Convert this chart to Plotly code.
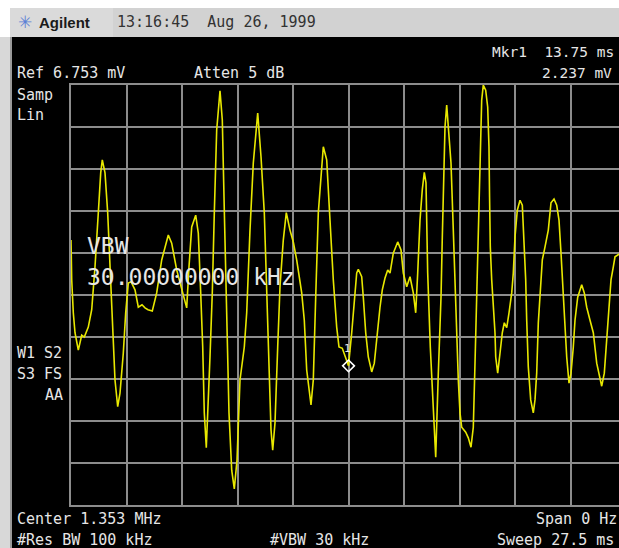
import plotly.graph_objects as go

# ---------------- data ----------------
sweep_ms = [
    0.000, 0.035, 0.114, 0.198, 0.362, 0.530, 0.659, 0.857, 1.026, 1.189,
    1.353, 1.472, 1.551, 1.685, 1.818, 1.932, 2.046, 2.180, 2.314, 2.428,
    2.591, 2.710, 2.839, 2.973, 3.171, 3.335, 3.518, 3.667, 3.815, 4.028,
    4.246, 4.494, 4.821, 4.989, 5.237, 5.485, 5.733, 5.847, 5.981, 6.179,
    6.308, 6.427, 6.526, 6.605, 6.704, 6.887, 7.001, 7.101, 7.219, 7.383,
    7.497, 7.596, 7.715, 7.829, 7.963, 8.092, 8.225, 8.374, 8.587, 8.706,
    8.869, 9.033, 9.251, 9.415, 9.578, 9.697, 9.811, 9.910, 9.994, 10.108,
    10.242, 10.356, 10.519, 10.668, 10.851, 11.015, 11.183, 11.431, 11.560, 11.679,
    11.892, 12.006, 12.125, 12.254, 12.502, 12.670, 12.833, 12.997, 13.165, 13.279,
    13.443, 13.750, 13.909, 14.038, 14.157, 14.236, 14.404, 14.484, 14.603, 14.731,
    14.900, 15.029, 15.148, 15.311, 15.425, 15.559, 15.693, 15.807, 15.970, 16.188,
    16.352, 16.466, 16.634, 16.798, 16.961, 17.080, 17.179, 17.293, 17.407, 17.506,
    17.590, 17.674, 17.803, 17.902, 18.001, 18.071, 18.200, 18.334, 18.398, 18.467,
    18.532, 18.616, 18.730, 18.829, 18.943, 19.062, 19.191, 19.275, 19.359, 19.558,
    19.686, 19.820, 19.934, 20.018, 20.102, 20.182, 20.266, 20.350, 20.429, 20.548,
    20.647, 20.710, 20.740, 20.776, 20.846, 20.925, 21.009, 21.044, 21.143, 21.257,
    21.371, 21.470, 21.589, 21.703, 21.837, 21.916, 22.000, 22.114, 22.248, 22.362,
    22.461, 22.530, 22.580, 22.659, 22.778, 22.907, 22.991, 23.075, 23.155, 23.239,
    23.353, 23.487, 23.650, 23.784, 23.933, 24.066, 24.180, 24.280, 24.394, 24.478,
    24.562, 24.676, 24.775, 24.889, 24.973, 25.107, 25.305, 25.434, 25.553, 25.717,
    25.880, 26.049, 26.296, 26.425, 26.544, 26.658, 26.757, 26.871, 26.955, 27.089,
    27.500,
]
trace_mv = [
    4.26, 3.62, 3.09, 2.77, 2.49, 2.73, 2.70, 2.86, 3.14, 3.83,
    4.70, 5.34, 5.55, 5.34, 4.70, 3.83, 2.77, 2.01, 1.58, 1.80,
    2.44, 3.09, 3.57, 3.59, 3.46, 3.18, 3.22, 3.17, 3.14, 3.12,
    3.41, 3.94, 4.34, 4.21, 3.78, 3.46, 3.17, 3.83, 4.47, 4.66,
    4.37, 3.41, 2.54, 1.48, 0.92, 2.38, 3.41, 4.70, 6.03, 6.66,
    6.19, 4.74, 2.97, 1.48, 0.56, 0.26, 0.72, 2.01, 2.54, 3.09,
    4.42, 5.50, 6.30, 5.60, 4.70, 3.51, 2.01, 1.21, 0.88, 1.32,
    2.54, 3.51, 4.26, 4.70, 4.42, 4.23, 3.94, 3.41, 2.97, 2.17,
    1.61, 2.01, 3.34, 4.70, 5.76, 5.55, 4.58, 3.62, 2.86, 2.54,
    2.52, 2.24, 2.77, 3.34, 3.73, 3.79, 3.67, 3.34, 2.77, 2.38,
    2.14, 2.28, 2.70, 3.18, 3.46, 3.65, 3.78, 3.73, 4.05, 4.23,
    4.10, 3.73, 3.51, 3.67, 3.41, 3.09, 3.73, 4.58, 5.07, 5.35,
    5.18, 3.73, 2.54, 1.85, 1.21, 0.77, 2.12, 3.34, 4.31, 5.34,
    6.08, 6.43, 5.98, 5.50, 4.42, 3.09, 2.01, 1.48, 1.25, 1.17,
    1.08, 0.93, 1.25, 2.28, 3.34, 4.42, 5.23, 6.51, 6.75, 6.67,
    6.40, 5.76, 4.95, 4.15, 3.62, 3.25, 2.77, 2.38, 2.12, 2.44,
    2.77, 2.93, 2.85, 3.09, 3.41, 3.73, 4.31, 4.74, 4.90, 4.82,
    4.15, 3.62, 2.97, 2.22, 1.69, 1.48, 1.69, 2.12, 2.93, 3.34,
    3.94, 4.15, 4.42, 4.86, 4.92, 4.82, 4.58, 4.05, 3.41, 2.81,
    2.38, 1.96, 2.12, 2.54, 2.97, 3.34, 3.54, 3.41, 3.18, 2.97,
    2.77, 2.28, 1.91, 2.12, 2.65, 3.09, 3.62, 3.83, 3.99, 4.02,
    4.10,
]
marker_ms = [13.75]
marker_mv = [2.237]

ref_level_mv = 6.753
sweep_time_ms = 27.5
divisions = 10

# ---------------- layout geometry ----------------
W, H = 619, 548
L, R, T, B = 71, 0, 85, 43
PW = W - L - R
PH = H - T - B
FULL_W = 555  # graticule width in pixels (part of it is cut off on the right)


def px(x):
    return (x - L) / PW


def py(y):
    return (H - B - y) / PH


x_max = sweep_time_ms * PW / FULL_W

GRID = "#8c8c8c"
TXT = "#e6e6e6"
MONO = "DejaVu Sans Mono"

fig = go.Figure()
fig.add_trace(go.Scatter(
    x=sweep_ms, y=trace_mv, mode="lines",
    line=dict(color="#e8e800", width=1.6),
    hoverinfo="skip", showlegend=False,
))
fig.add_trace(go.Scatter(
    x=marker_ms, y=marker_mv, mode="markers",
    marker=dict(symbol="diamond-open", size=9, color="#ffffff",
                line=dict(width=1.6, color="#ffffff")),
    hoverinfo="skip", showlegend=False,
))

shapes = [
    # black instrument screen
    dict(type="rect", xref="paper", yref="paper", x0=px(12), x1=px(W + 5),
         y0=py(37), y1=py(H + 5), fillcolor="#000000", line_width=0, layer="below"),
    # grey header strip
    dict(type="rect", xref="paper", yref="paper", x0=px(10), x1=px(W + 5),
         y0=py(8), y1=py(37), fillcolor="#d2d2d2", line_width=0, layer="below"),
    dict(type="rect", xref="paper", yref="paper", x0=px(10), x1=px(113),
         y0=py(8), y1=py(37), fillcolor="#dadada", line_width=0, layer="below"),
    # left frame
    dict(type="rect", xref="paper", yref="paper", x0=px(0), x1=px(12),
         y0=py(37), y1=py(H + 5), fillcolor="#d8d8d8", line_width=0, layer="below"),
    dict(type="line", xref="paper", yref="paper", x0=px(11), x1=px(11),
         y0=py(37), y1=py(H + 5), line=dict(color="#9a9a9a", width=2), layer="below"),
]

annotations = []


def ann(text, x, y, size=15, color=TXT, xanchor="left", family=MONO, bold=False):
    annotations.append(dict(
        text=("<b>%s</b>" % text) if bold else text,
        xref="paper", yref="paper", x=px(x), y=py(y),
        xanchor=xanchor, yanchor="middle", showarrow=False,
        font=dict(family=family, size=size, color=color),
    ))


# header
ann("✳", 16, 22, size=17, color="#5a7fd6", family="DejaVu Sans")
ann("Agilent", 37, 22, size=15, color="#1a1a1a", family="Liberation Sans", bold=True)
ann("13:16:45  Aug 26, 1999", 115, 22, size=15, color="#333333")

# top annotations
ann("Ref 6.753 mV", 15, 73)
ann("Atten 5 dB", 192, 73)
ann("Mkr1  13.75 ms", 490, 52, size=14.5)
ann("2.237 mV", 540, 73, size=14.5)
ann("Samp", 15, 95)
ann("Lin", 15, 115)

# left status
ann("W1 S2", 15, 353)
ann("S3 FS", 15, 374)
ann("AA", 43, 395)

# active function
ann("VBW", 85, 246, size=23)
ann("30.00000000 kHz", 85, 277, size=23)

# marker label
ann("1", 347, 348, size=11, xanchor="center")

# bottom annotations
ann("Center 1.353 MHz", 15, 519)
ann("#Res BW 100 kHz", 15, 540)
ann("#VBW 30 kHz", 268, 540)
ann("Span 0 Hz", 619, 519, xanchor="right")
ann("Sweep 27.5 ms", 616, 540, xanchor="right")

fig.update_layout(
    width=W, height=H,
    margin=dict(l=L, r=R, t=T, b=B, pad=0),
    paper_bgcolor="#ffffff",
    plot_bgcolor="#000000",
    showlegend=False,
    hovermode=False,
    shapes=shapes,
    annotations=annotations,
    xaxis=dict(
        range=[0, x_max], tick0=0, dtick=sweep_time_ms / divisions,
        showgrid=True, gridcolor=GRID, gridwidth=1.6,
        showticklabels=False, ticks="", zeroline=False,
        showline=True, linecolor=GRID, linewidth=2, mirror=True,
        fixedrange=True,
    ),
    yaxis=dict(
        range=[0, ref_level_mv], tick0=0, dtick=ref_level_mv / divisions,
        showgrid=True, gridcolor=GRID, gridwidth=1.6,
        showticklabels=False, ticks="", zeroline=False,
        showline=True, linecolor=GRID, linewidth=2, mirror=False,
        fixedrange=True,
    ),
)

fig.write_html(
    "out.html",
    config=dict(displayModeBar=False),
    post_script="document.body.style.margin='0';document.body.style.overflow='hidden';",
)
